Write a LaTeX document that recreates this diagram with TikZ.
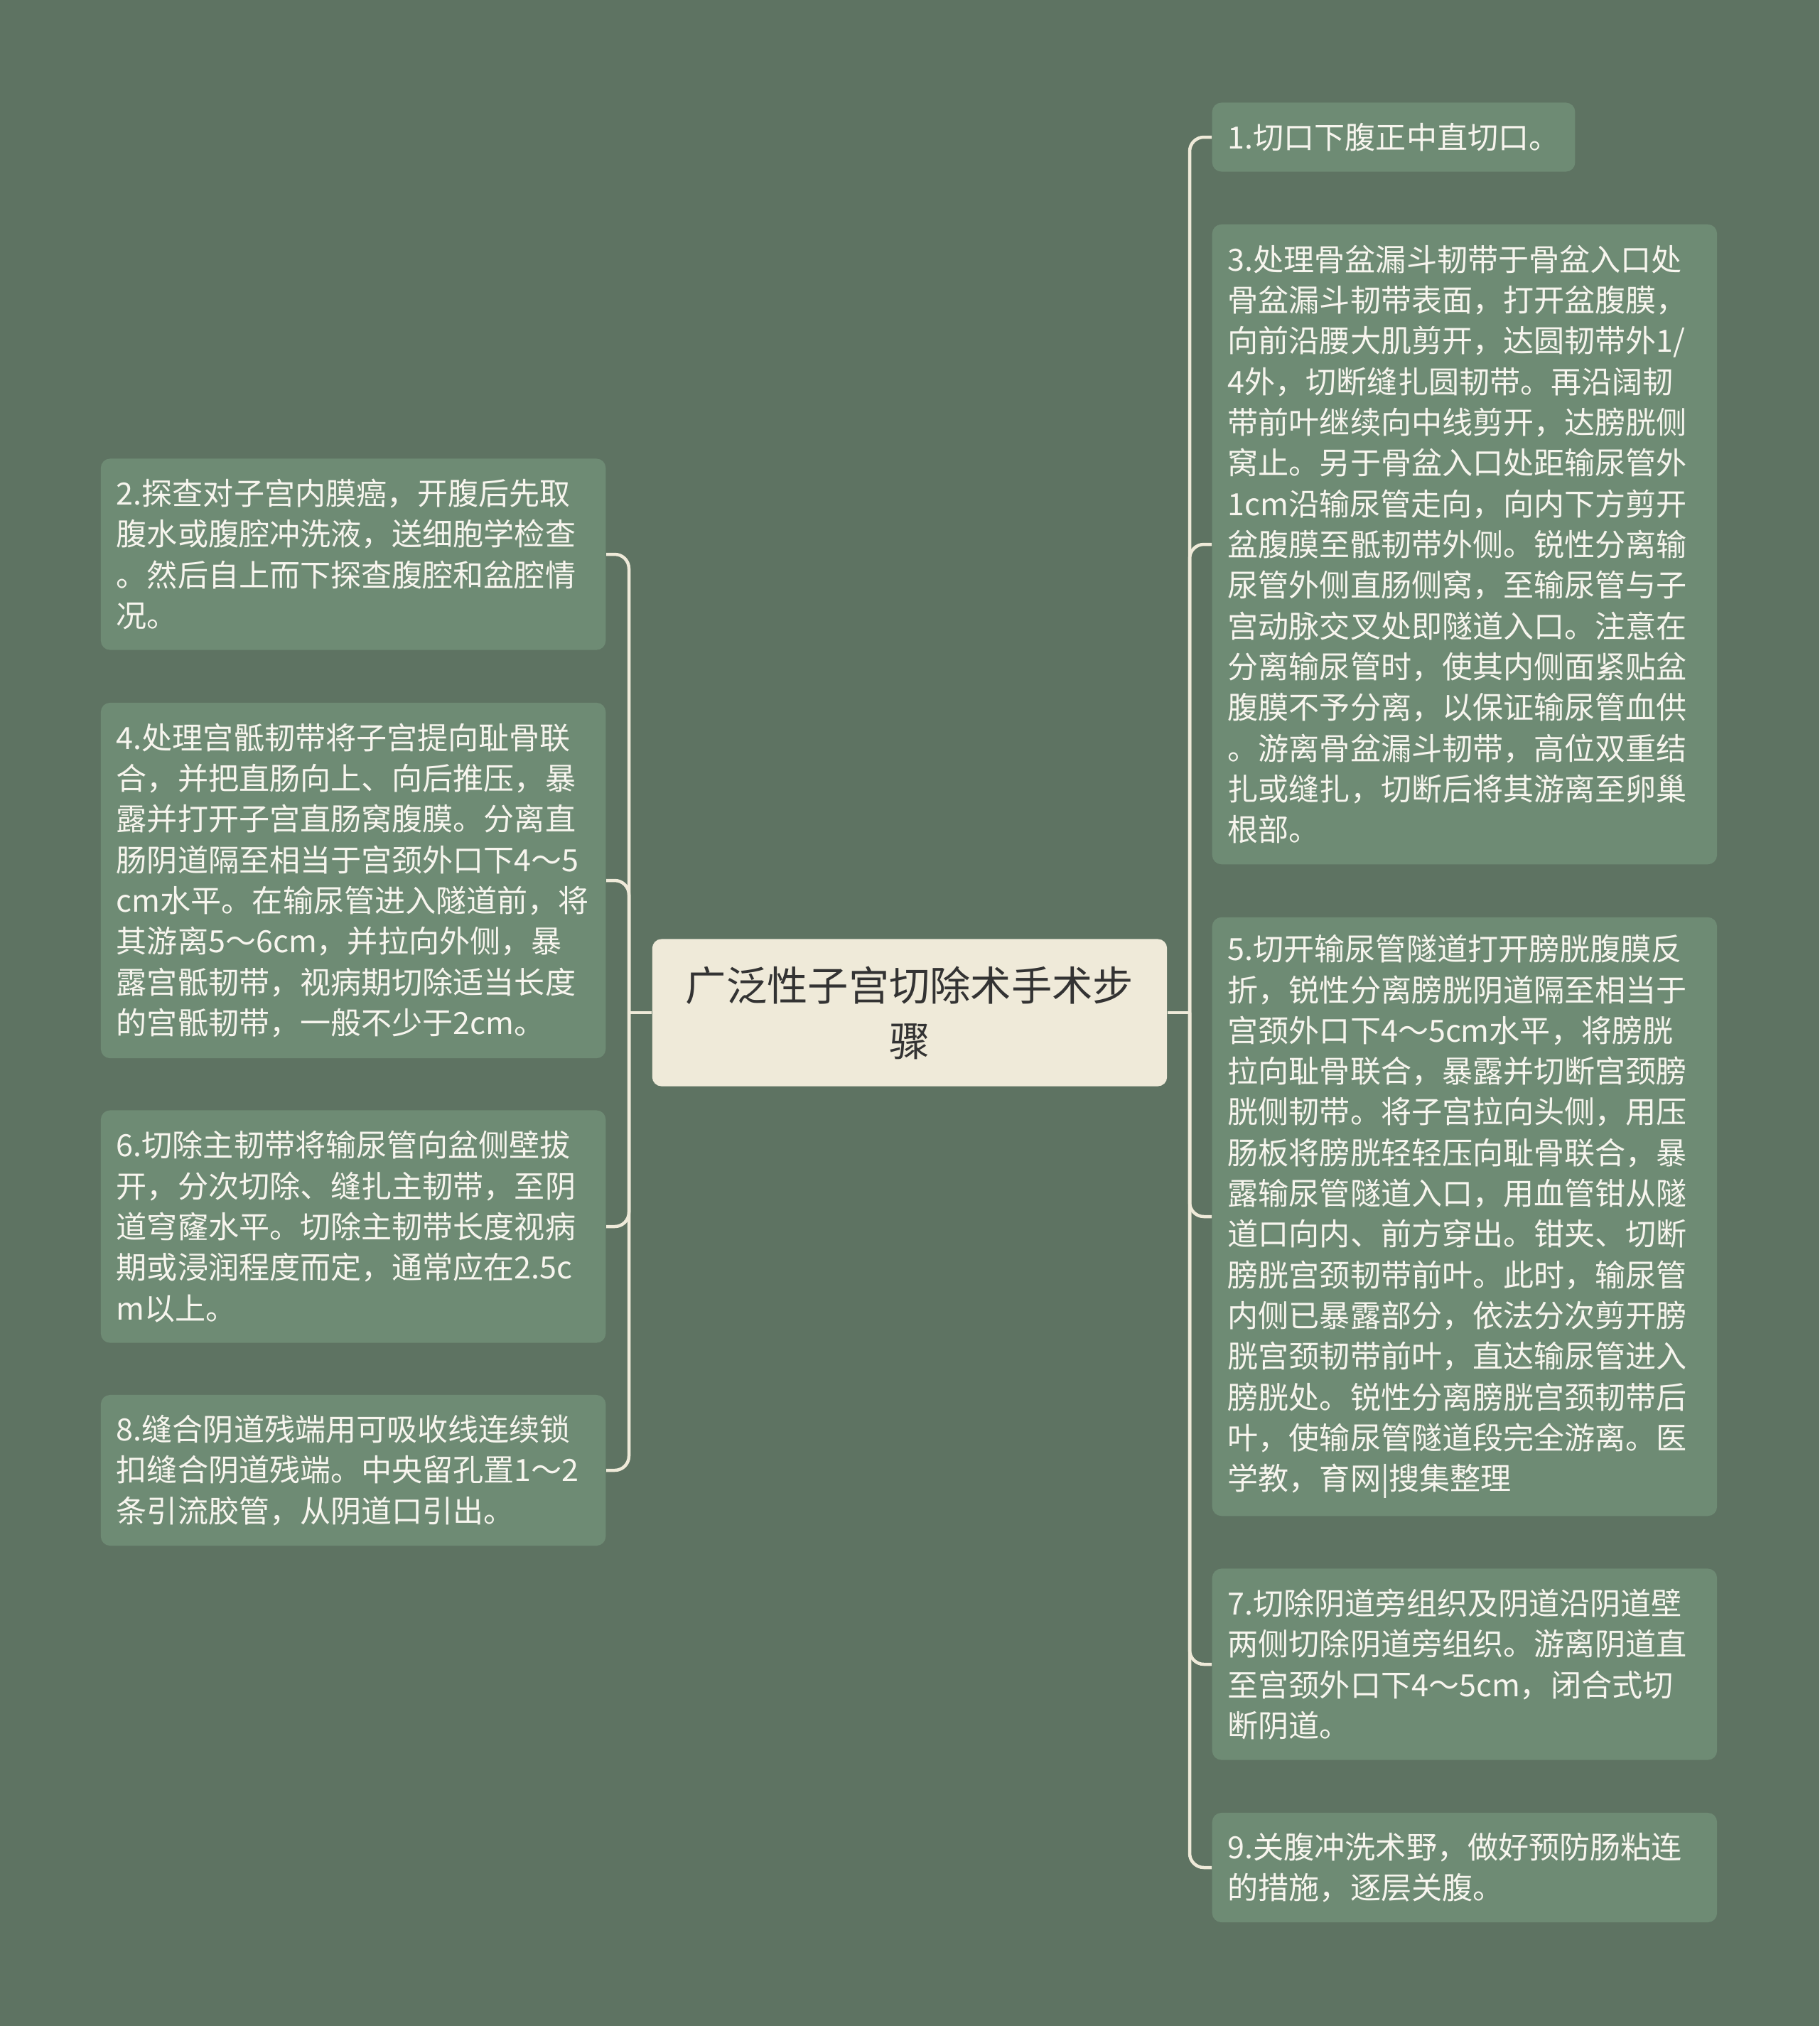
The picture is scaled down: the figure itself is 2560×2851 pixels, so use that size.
\documentclass[tikz,border=0pt]{standalone}
\usepackage{fontspec}
\setmainfont{Noto Sans CJK SC}
\definecolor{bgcol}{HTML}{5E7362}
\definecolor{leafcol}{HTML}{6E8B74}
\definecolor{rootcol}{HTML}{EFEAD9}
\definecolor{linecol}{HTML}{EFEAD9}
\definecolor{leaftext}{HTML}{F7F5EE}
\definecolor{roottext}{HTML}{333333}

\begin{document}
\begin{tikzpicture}[x=0.01cm,y=-0.01cm,
    root/.style={fill=rootcol, text=roottext, rounded corners=0.13cm, align=center,
      font=\fontsize{16.3pt}{22.2pt}\selectfont, minimum width=7.24cm, minimum height=2.07cm, inner sep=0pt},
    leaf/.style={fill=leafcol, text=leaftext, rounded corners=0.13cm, align=left,
      font=\fontsize{12.25pt}{16.3pt}\selectfont, inner xsep=0.22cm, inner ysep=0pt},
    wide/.style={leaf, text width=6.66cm},
    link/.style={draw=linecol, line width=0.045cm, rounded corners=0.2cm}]

    \fill[bgcol] (0,0) rectangle (2560,2851);
    \useasboundingbox (0,0) rectangle (2560,2851);

    \node[root] (root) at (1280,1425) {广泛性子宫切除术手术步\\骤};

    \node[leaf, anchor=west, minimum height=0.97cm] (s1) at (1705,193) {1.切口下腹正中直切口。};
    \node[wide, anchor=west, minimum height=9.0cm] (s3) at (1705,766) {3.处理骨盆漏斗韧带于骨盆入口处\\骨盆漏斗韧带表面，打开盆腹膜，\\向前沿腰大肌剪开，达圆韧带外1/\\4外，切断缝扎圆韧带。再沿阔韧\\带前叶继续向中线剪开，达膀胱侧\\窝止。另于骨盆入口处距输尿管外\\1cm沿输尿管走向，向内下方剪开\\盆腹膜至骶韧带外侧。锐性分离输\\尿管外侧直肠侧窝，至输尿管与子\\宫动脉交叉处即隧道入口。注意在\\分离输尿管时，使其内侧面紧贴盆\\腹膜不予分离，以保证输尿管血供\\。游离骨盆漏斗韧带，高位双重结\\扎或缝扎，切断后将其游离至卵巢\\根部。};
    \node[wide, anchor=west, minimum height=8.42cm] (s5) at (1705,1712) {5.切开输尿管隧道打开膀胱腹膜反\\折，锐性分离膀胱阴道隔至相当于\\宫颈外口下4～5cm水平，将膀胱\\拉向耻骨联合，暴露并切断宫颈膀\\胱侧韧带。将子宫拉向头侧，用压\\肠板将膀胱轻轻压向耻骨联合，暴\\露输尿管隧道入口，用血管钳从隧\\道口向内、前方穿出。钳夹、切断\\膀胱宫颈韧带前叶。此时，输尿管\\内侧已暴露部分，依法分次剪开膀\\胱宫颈韧带前叶，直达输尿管进入\\膀胱处。锐性分离膀胱宫颈韧带后\\叶，使输尿管隧道段完全游离。医\\学教，育网|搜集整理};
    \node[wide, anchor=west, minimum height=2.69cm] (s7) at (1705,2342) {7.切除阴道旁组织及阴道沿阴道壁\\两侧切除阴道旁组织。游离阴道直\\至宫颈外口下4～5cm，闭合式切\\断阴道。};
    \node[wide, anchor=west, minimum height=1.54cm] (s9) at (1705,2628) {9.关腹冲洗术野，做好预防肠粘连\\的措施，逐层关腹。};

    \node[wide, anchor=east, minimum height=2.69cm] (s2) at (853,780) {2.探查对子宫内膜癌，开腹后先取\\腹水或腹腔冲洗液，送细胞学检查\\。然后自上而下探查腹腔和盆腔情\\况。};
    \node[wide, anchor=east, minimum height=5.0cm] (s4) at (853,1239) {4.处理宫骶韧带将子宫提向耻骨联\\合，并把直肠向上、向后推压，暴\\露并打开子宫直肠窝腹膜。分离直\\肠阴道隔至相当于宫颈外口下4～5\\cm水平。在输尿管进入隧道前，将\\其游离5～6cm，并拉向外侧，暴\\露宫骶韧带，视病期切除适当长度\\的宫骶韧带，一般不少于2cm。};
    \node[wide, anchor=east, minimum height=3.27cm] (s6) at (853,1726) {6.切除主韧带将输尿管向盆侧壁拔\\开，分次切除、缝扎主韧带，至阴\\道穹窿水平。切除主韧带长度视病\\期或浸润程度而定，通常应在2.5c\\m以上。};
    \node[wide, anchor=east, minimum height=2.12cm] (s8) at (853,2069) {8.缝合阴道残端用可吸收线连续锁\\扣缝合阴道残端。中央留孔置1～2\\条引流胶管，从阴道口引出。};

    \coordinate (rbus) at (1674,1425);
    \coordinate (lbus) at (885,1425);
    \draw[link] (root.east) -- (rbus);
    \draw[link] (root.west) -- (lbus);
    \foreach \s in {s1,s3,s5,s7,s9}
        \draw[link] (rbus) |- (\s.west);
    \foreach \s in {s2,s4,s6,s8}
        \draw[link] (lbus) |- (\s.east);
\end{tikzpicture}
\end{document}
